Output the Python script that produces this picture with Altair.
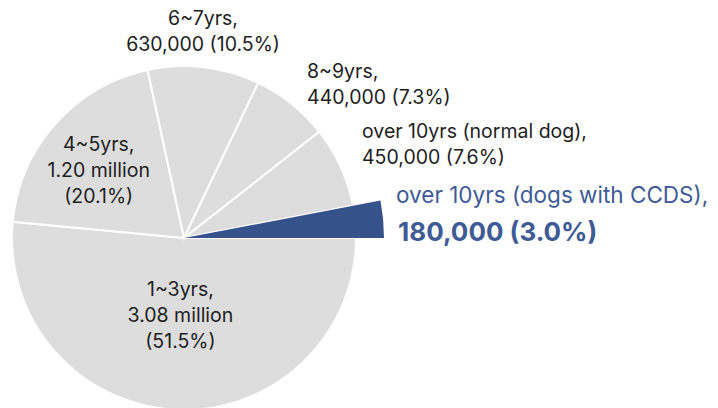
import math
import altair as alt
import pandas as pd

categories = ["1~3yrs", "4~5yrs", "6~7yrs", "8~9yrs",
              "over 10yrs (normal dog)", "over 10yrs (dogs with CCDS)"]
percents = [51.5, 20.1, 10.5, 7.3, 7.6, 3.0]
counts = ["3.08 million", "1.20 million", "630,000", "440,000", "450,000", "180,000"]

df = pd.DataFrame({
    "category": categories,
    "pct": percents,
    "count": counts,
    "order": list(range(len(categories))),
})

FONT = "Inter"
GRAY = "#dddddd"
BLUE = "#36528a"
TEXT = "#1e1e1e"
BLUE_TEXT = "#3e5b96"
CX, CY = 184, 238
LH = 26

theta_scale = alt.Scale(domain=[0, 100], range=[math.pi / 2, math.pi / 2 + 2 * math.pi])

base = (
    alt.Chart(df)
    .transform_window(cum="sum(pct)", sort=[alt.SortField("order", order="ascending")], frame=[None, 0])
    .transform_calculate(start="datum.cum - datum.pct", mid="datum.cum - datum.pct / 2")
)

pie = base.mark_arc(radius=172, stroke="white", strokeWidth=2).encode(
    theta=alt.Theta("start:Q", scale=theta_scale),
    theta2="cum:Q",
    x=alt.value(CX), y=alt.value(CY),
    color=alt.condition(alt.datum.order == 5, alt.value(BLUE), alt.value(GRAY)),
)

explode = base.transform_filter(alt.datum.order == 5).mark_arc(radius=200, color=BLUE).encode(
    theta=alt.Theta("start:Q", scale=theta_scale),
    theta2="cum:Q",
    x=alt.value(CX), y=alt.value(CY),
)


def label(idx, expr, radius, align="center", dx=0, dy=0, size=19.5, weight="normal", color=TEXT):
    return (
        base.transform_filter(alt.datum.order == idx)
        .transform_calculate(lab=expr)
        .mark_text(radius=radius, align=align, baseline="middle", dx=dx, dy=dy,
                   font=FONT, fontSize=size, fontWeight=weight, color=color,
                   lineBreak="\n", lineHeight=LH)
        .encode(theta=alt.Theta("mid:Q", scale=theta_scale), text="lab:N",
                x=alt.value(CX), y=alt.value(CY))
    )


full3 = "datum.category + ',\\n' + datum.count + '\\n(' + format(datum.pct, '.1f') + '%)'"
full2 = "datum.category + ',\\n' + datum.count + ' (' + format(datum.pct, '.1f') + '%)'"

layers = [
    pie, explode,
    label(0, full3, 76, dx=0, dy=-24),
    label(1, full3, 106, dx=-6, dy=-23),
    label(2, full2, 207, dx=-5, dy=-13),
    label(3, full2, 200, align="left", dx=-2, dy=-10),
    label(4, full2, 200, align="left", dx=-4, dy=-23),
    label(5, "datum.category + ','", 215, align="left", dx=-2, dy=-22, size=22.5, color=BLUE_TEXT),
    label(5, "datum.count + ' (' + format(datum.pct, '.1f') + '%)'", 215, align="left", dy=15,
          size=26, weight="bold", color=BLUE_TEXT),
]

chart = (
    alt.layer(*layers)
    .properties(width=718, height=408, autosize=alt.AutoSizeParams(type="none"), padding=0,
                background="white")
    .configure_view(stroke=None)
)

chart.save("out.html", embed_options={"renderer": "svg", "actions": False})
